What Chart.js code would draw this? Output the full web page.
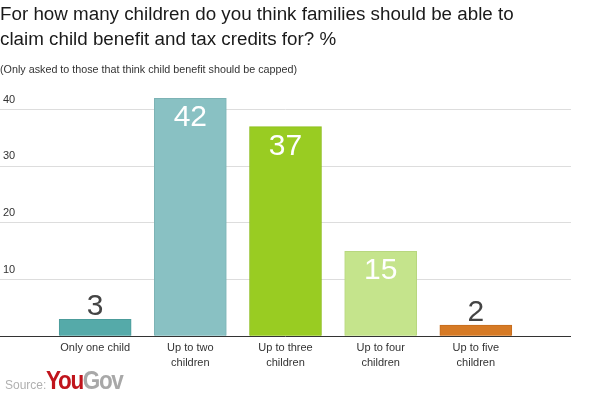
<!DOCTYPE html>
<html>
<head>
<meta charset="utf-8">
<script src="https://cdn.jsdelivr.net/npm/chart.js@4/dist/chart.umd.min.js"></script>
<style>
    html, body { margin: 0; padding: 0; background: #fff; }
    #wrap { position: relative; width: 596px; height: 396px; }
    #source {
        position: absolute; left: 5px; top: 366px;
        font-family: "Liberation Sans", Arial, sans-serif; white-space: nowrap;
    }
    #source .src { font-size: 12px; color: #b0b0b0; }
    #source .logo {
        display: inline-block; font-size: 25px; font-weight: bold;
        letter-spacing: -1.5px; transform: scaleX(0.9); transform-origin: left;
    }
    #source .you { color: #c0141c; }
    #source .gov { color: #a8a8a8; }
</style>
</head>
<body>
<div id="wrap">
    <canvas id="yougovChart" width="596" height="396"></canvas>
    <div id="source"><span class="src">Source:</span><span class="logo"><span class="you">You</span><span class="gov">Gov</span></span></div>
</div>
<script>
const categories = [
    ['Only one child'],
    ['Up to two', 'children'],
    ['Up to three', 'children'],
    ['Up to four', 'children'],
    ['Up to five', 'children']
];
const values = [3, 42, 37, 15, 2];
const barColors = ['#55aaa9', '#89c1c3', '#99cc22', '#c5e48c', '#d67a25'];
const barBorders = ['#4c9c9b', '#7db3b5', '#8cbd1c', '#b8d77f', '#c56c1d'];
const yTicks = [10, 20, 30, 40];

const FONT = '"Liberation Sans", Arial, sans-serif';

// value labels: white inside tall bars, dark above short ones
const valueLabels = {
    id: 'valueLabels',
    afterDatasetsDraw(chart) {
        const c = chart.ctx;
        const meta = chart.getDatasetMeta(0);
        c.save();
        c.font = '30px ' + FONT;
        c.textAlign = 'center';
        c.textBaseline = 'alphabetic';
        meta.data.forEach((bar, i) => {
            const v = values[i];
            if (v >= 10) {
                c.fillStyle = '#ffffff';
                c.fillText(String(v), bar.x, bar.y + 28);
            } else {
                c.fillStyle = '#444444';
                c.fillText(String(v), bar.x, bar.y - 4);
            }
        });
        c.restore();
    }
};

new Chart(document.getElementById('yougovChart'), {
    type: 'bar',
    data: {
        datasets: [{
            data: values.map((v, i) => ({ x: i, y: v })),
            backgroundColor: barColors,
            borderColor: barBorders,
            borderWidth: 1,
            barThickness: 72
        }]
    },
    options: {
        responsive: false,
        animation: false,
        layout: { padding: { left: 0, right: 25, top: 0, bottom: 22 } },
        plugins: {
            legend: { display: false },
            tooltip: { enabled: false },
            title: {
                display: true,
                align: 'start',
                text: ['For how many children do you think families should be able to',
                       'claim child benefit and tax credits for? %'],
                color: '#1a1a1a',
                font: { family: FONT, size: 18.8, weight: 'normal', lineHeight: 1.35 },
                padding: { top: 2, bottom: 11 }
            },
            subtitle: {
                display: true,
                align: 'start',
                text: '(Only asked to those that think child benefit should be capped)',
                color: '#333333',
                font: { family: FONT, size: 10.75, lineHeight: 1.2 },
                padding: { top: 0, bottom: 8 }
            }
        },
        scales: {
            x: {
                type: 'linear',
                min: -1,
                max: 5,
                offset: false,
                grid: { display: false, drawTicks: false },
                border: { display: false },
                ticks: {
                    stepSize: 1,
                    autoSkip: false,
                    maxRotation: 0,
                    padding: 4,
                    color: '#333333',
                    font: { family: FONT, size: 11, lineHeight: 1.35 },
                    callback: (v) => categories[v] || null
                }
            },
            y: {
                min: 0,
                max: 44.4,
                afterFit: (axis) => { axis.width = 0; },
                grid: {
                    drawTicks: false,
                    color: (ctx) => ctx.tick && ctx.tick.value === 0 ? '#333333' : '#dddddd',
                    lineWidth: 1
                },
                border: { display: false },
                afterBuildTicks: (axis) => {
                    axis.ticks = [0].concat(yTicks).map(v => ({ value: v }));
                },
                ticks: {
                    mirror: true,
                    padding: 3,
                    labelOffset: -10,
                    color: '#333333',
                    font: { family: FONT, size: 11 },
                    callback: (v) => v === 0 ? '' : v
                }
            }
        }
    },
    plugins: [valueLabels]
});
</script>
</body>
</html>
